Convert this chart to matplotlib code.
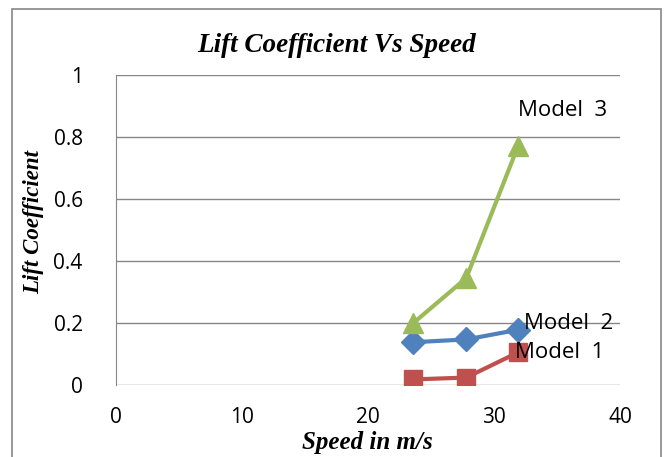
import matplotlib
matplotlib.use("Agg")
import matplotlib.pyplot as plt
from matplotlib.patches import Rectangle

speed = [23.6, 27.8, 31.9]
model1 = [0.018, 0.024, 0.105]
model2 = [0.138, 0.147, 0.178]
model3 = [0.200, 0.345, 0.770]
series_names = ["Model  1", "Model  2", "Model  3"]
x_ticks = [0, 10, 20, 30, 40]
y_ticks = [0, 0.2, 0.4, 0.6, 0.8, 1]
y_tick_labels = ["0", "0.2", "0.4", "0.6", "0.8", "1"]

W, H = 668, 457
fig = plt.figure(figsize=(W / 100, H / 100), dpi=100)
ax = fig.add_axes([116 / W, 1 - 385 / H, (620 - 116) / W, (385 - 75) / H])

grid_c = "#868686"
fig.patches.append(Rectangle((12 / W, -0.05), (661 - 12) / W, 1 - 9 / H + 0.05,
                             transform=fig.transFigure, fill=False,
                             edgecolor=grid_c, linewidth=1.2))

ax.plot(speed, model1, color="#C0504D", lw=3, marker="s", ms=13, zorder=3)
ax.plot(speed, model2, color="#4F81BD", lw=3, marker="D", ms=12, zorder=3)
ax.plot(speed, model3, color="#9BBB59", lw=3, marker="^", ms=15, zorder=3)

ax.set_xlim(0, 40)
ax.set_ylim(0, 1)
ax.set_xticks(x_ticks)
ax.set_yticks(y_ticks)
ax.set_yticklabels(y_tick_labels)
ax.grid(axis="y", color=grid_c, lw=1)
ax.set_axisbelow(True)
for s in ["top", "right", "bottom"]:
    ax.spines[s].set_visible(False)
ax.spines["left"].set_color(grid_c)
ax.tick_params(length=0, labelsize=15, colors="black")
ax.tick_params(axis="y", pad=24)
ax.tick_params(axis="x", pad=16)
for lab in ax.get_xticklabels() + ax.get_yticklabels():
    lab.set_family("Open Sans")

lab_font = dict(family="Open Sans", fontsize=16, color="black", va="center", ha="left")
ax.text(31.7, 0.106, series_names[0], **lab_font)
ax.text(32.4, 0.197, series_names[1], **lab_font)
ax.text(31.9, 0.885, series_names[2], **lab_font)

serif = dict(family="Liberation Serif", weight="bold", style="italic")
fig.text(337 / W, 1 - 45 / H, "Lift Coefficient Vs Speed", ha="center", va="center",
         fontsize=19.5, **serif)
fig.text(367 / W, 1 - 443 / H, "Speed in m/s", ha="center", va="center",
         fontsize=18, **serif)
fig.text(34 / W, 1 - 222 / H, "Lift Coefficient", ha="center", va="center",
         rotation=90, fontsize=16.5, **serif)

fig.savefig("out.png", dpi=100)
